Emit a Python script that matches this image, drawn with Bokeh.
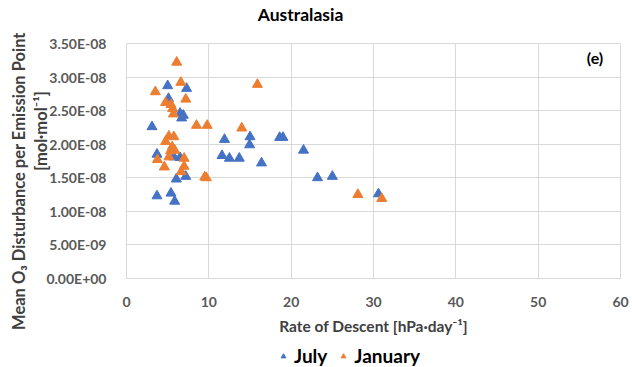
from bokeh.plotting import figure
from bokeh.layouts import column
from bokeh.models import (Range1d, FixedTicker, CustomJSTickFormatter, Label,
                          Legend, LegendItem, ColumnDataSource)
from bokeh.embed import file_html
from bokeh.resources import INLINE

# Rate of descent [hPa/day] and mean O3 disturbance [mol/mol], per emission point
july_x = [3.1, 3.7, 3.7, 5.0, 5.1, 5.75, 5.4, 5.85, 6.05, 6.5, 6.5, 6.9, 6.7, 7.2, 7.3,
          11.6, 11.9, 12.5, 13.7, 14.95, 15.0, 16.4, 18.6, 19.0, 21.5, 23.2, 25.0, 30.6]
july_y = [2.26e-8, 1.85e-8, 1.23e-8, 2.87e-8, 2.68e-8, 1.81e-8, 1.27e-8, 1.15e-8,
          1.48e-8, 1.80e-8, 2.46e-8, 2.43e-8, 2.39e-8, 1.52e-8, 2.83e-8,
          1.83e-8, 2.07e-8, 1.79e-8, 1.79e-8, 1.99e-8, 2.11e-8, 1.72e-8, 2.10e-8,
          2.10e-8, 1.91e-8, 1.50e-8, 1.52e-8, 1.26e-8]

jan_x = [6.1, 6.6, 3.5, 7.2, 4.75, 5.4, 5.6, 5.7, 15.9, 8.5, 9.8, 14.0, 5.15, 5.75,
         4.75, 5.55, 5.85, 5.35, 5.15, 3.75, 7.0, 4.6, 7.0, 6.65, 9.5, 9.7, 28.1, 31.0]
jan_y = [3.22e-8, 2.92e-8, 2.78e-8, 2.67e-8, 2.62e-8, 2.59e-8, 2.53e-8, 2.45e-8,
         2.89e-8, 2.28e-8, 2.28e-8, 2.24e-8, 2.12e-8, 2.11e-8, 2.04e-8, 1.96e-8,
         1.91e-8, 1.90e-8, 1.81e-8, 1.77e-8, 1.79e-8, 1.66e-8, 1.67e-8, 1.59e-8,
         1.51e-8, 1.50e-8, 1.25e-8, 1.19e-8]

x_ticks = [0, 10, 20, 30, 40, 50, 60]
y_ticks = [0.0, 0.5e-8, 1.0e-8, 1.5e-8, 2.0e-8, 2.5e-8, 3.0e-8, 3.5e-8]
series_names = ["July", "January"]

FONT = "Lato"
BLUE = "#4472C4"
ORANGE = "#ED7D31"
GRID = "#d9d9d9"
W, H = 632, 367
LEFT, RIGHT = 126, 12
FRAME_W = W - LEFT - RIGHT
TITLE_H, LEGEND_H = 28, 30
MAIN_H = H - TITLE_H - LEGEND_H
NBSP = "\u00a0"

# Title strip
tf = figure(width=W, height=TITLE_H, output_backend="svg", toolbar_location=None,
            x_range=Range1d(0, FRAME_W), y_range=Range1d(0, TITLE_H),
            min_border_left=LEFT, min_border_right=RIGHT,
            min_border_top=0, min_border_bottom=0, outline_line_color=None)
tf.axis.visible = False
tf.grid.visible = False
tf.add_layout(Label(x=174, y=14, text="Australasia", text_align="center",
                    text_baseline="middle", text_font=FONT,
                    text_font_style="bold", text_font_size="17.5px",
                    text_color="#000000"))

# Main scatter chart
p = figure(width=W, height=MAIN_H, output_backend="svg", toolbar_location=None,
           x_range=Range1d(0, 60), y_range=Range1d(0, 3.5e-8),
           min_border_left=LEFT, min_border_right=RIGHT,
           min_border_top=15, min_border_bottom=58)
p.outline_line_color = GRID
p.background_fill_color = "white"
p.border_fill_color = "white"

p.xaxis.ticker = FixedTicker(ticks=x_ticks)
p.yaxis.ticker = FixedTicker(ticks=y_ticks)
p.yaxis.formatter = CustomJSTickFormatter(code="""
    const s = tick.toExponential(2).toUpperCase();
    const parts = s.split("E");
    const sign = parts[1][0];
    const digits = parts[1].slice(1).padStart(2, "0");
    return parts[0] + "E" + sign + digits;
""")

for ax in (p.xaxis[0], p.yaxis[0]):
    ax.axis_line_color = GRID
    ax.major_tick_line_color = None
    ax.minor_tick_line_color = None
    ax.major_label_text_font = FONT
    ax.major_label_text_font_style = "bold"
    ax.major_label_text_font_size = "14px"
    ax.major_label_text_color = "#595959"
    ax.axis_label_text_font = FONT
    ax.axis_label_text_font_style = "bold"
    ax.axis_label_text_color = "#404040"

p.xaxis.axis_label_text_font_size = "15.5px"
p.yaxis.axis_label_text_font_size = "16.5px"
p.yaxis.axis_label_text_line_height = 1.1
p.xaxis.major_label_standoff = 12
p.yaxis.major_label_standoff = 14
p.xaxis.axis_label = "Rate of Descent [hPa\u00b7day\u207b\u00b9]"
p.xaxis.axis_label_standoff = 7
p.yaxis.axis_label = ("Mean O\u2083 Disturbance per Emission Point" + NBSP * 10 + "\n"
                      + NBSP * 15 + "[mol\u00b7mol\u207b\u00b9]")
p.yaxis.axis_label_standoff = -8

p.xgrid.grid_line_color = GRID
p.ygrid.grid_line_color = GRID

src_jul = ColumnDataSource(dict(x=july_x, y=july_y))
src_jan = ColumnDataSource(dict(x=jan_x, y=jan_y))
p.scatter("x", "y", source=src_jul, marker="triangle", size=10,
          fill_color=BLUE, line_color=BLUE)
p.scatter("x", "y", source=src_jan, marker="triangle", size=10,
          fill_color=ORANGE, line_color=ORANGE)

p.add_layout(Label(x=56.9, y=3.29e-8, text="(e)", text_align="center",
                   text_baseline="middle", text_font=FONT, text_font_style="bold",
                   text_font_size="16px", text_color="#000000"))

# Legend strip below the chart
lg = figure(width=W, height=LEGEND_H, output_backend="svg",
            toolbar_location=None, x_range=Range1d(0, 1), y_range=Range1d(0, 1),
            min_border_left=LEFT, min_border_right=RIGHT,
            min_border_top=0, min_border_bottom=0, outline_line_color=None)
lg.axis.visible = False
lg.grid.visible = False
items = []
for name, color in zip(series_names, [BLUE, ORANGE]):
    r = lg.scatter(x=[-5], y=[-5], marker="triangle", size=10,
                   fill_color=color, line_color=color)
    items.append(LegendItem(label=name, renderers=[r]))
legend = Legend(items=items, orientation="horizontal", location=(151, 0),
                border_line_color=None, background_fill_alpha=0,
                label_text_font=FONT, label_text_font_style="bold",
                label_text_font_size="19px", label_text_color="#000000",
                glyph_width=12, glyph_height=12, label_standoff=5,
                spacing=10, padding=2, margin=0)
lg.add_layout(legend, "center")

open("out.html", "w").write(file_html(column(tf, p, lg, spacing=0), INLINE))
